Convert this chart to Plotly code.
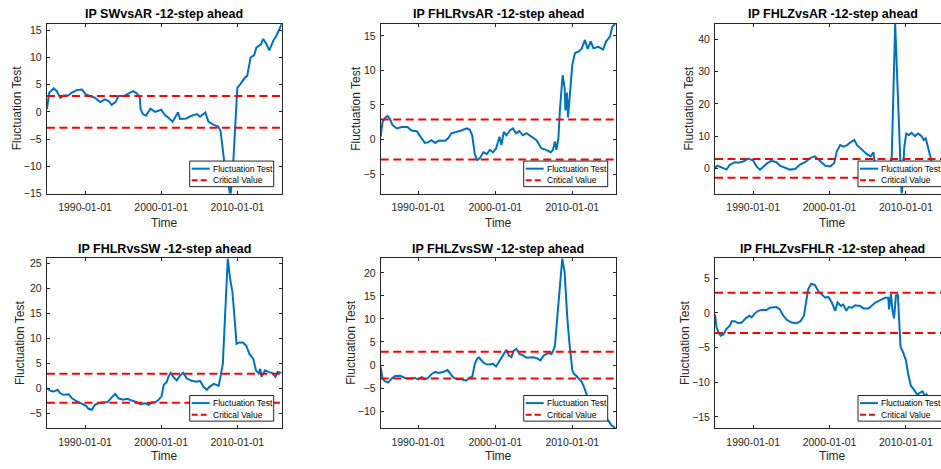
import numpy as np
import pandas as pd
import plotly.graph_objects as go

# ---------------- data ----------------
titles = ["IP SWvsAR -12-step ahead", "IP FHLRvsAR -12-step ahead", "IP FHLZvsAR -12-step ahead",
          "IP FHLRvsSW -12-step ahead", "IP FHLZvsSW -12-step ahead", "IP FHLZvsFHLR -12-step ahead"]
series_names = ["Fluctuation Test", "Critical Value"]
critical_value = 2.9
xtick_labels = ["1990-01-01", "2000-01-01", "2010-01-01"]
x_label = "Time"
y_label = "Fluctuation Test"

t_sw_ar = [1985.0, 1985.3, 1985.9, 1986.3, 1986.75, 1987.2, 1987.8, 1988.25, 1988.9, 1989.6, 1990.1, 1990.7,
           1991.3, 1992.0, 1992.6, 1993.1, 1993.5, 1994.0, 1994.4, 1995.1, 1995.7, 1996.3, 1996.8, 1997.2,
           1997.3, 1997.6, 1998.0, 1998.6, 1999.2, 2000.0, 2000.5, 2000.9, 2001.5, 2002.2, 2002.5, 2003.3,
           2004.0, 2004.7, 2005.1, 2005.5, 2005.8, 2006.2, 2006.9, 2007.5, 2007.8, 2008.3, 2008.6, 2009.0,
           2009.1, 2009.4, 2009.6, 2009.85, 2010.0, 2010.4, 2011.0, 2011.3, 2011.75, 2012.2, 2012.5, 2013.1,
           2013.4, 2013.8, 2014.2, 2014.7, 2015.1, 2015.6, 2015.83]
f_sw_ar = [0.5, 3.5, 4.3, 3.8, 2.6, 3.0, 3.0, 3.5, 4.0, 4.1, 3.2, 2.9, 2.6, 1.8, 2.3, 2.0, 1.3, 1.8, 2.9, 2.9,
           3.4, 3.8, 3.4, 2.6, 0.5, -0.4, -0.7, 0.6, 0.0, 0.4, -0.6, -1.0, -1.8, -0.1, -1.3, -1.2, -0.7, -0.4,
           -0.9, -0.4, -0.1, -1.8, -2.4, -2.7, -3.5, -9.3, -11.0, -14.8, -15.5, -11.0, -5.6, 2.9, 4.4, 5.1,
           6.3, 6.6, 10.0, 10.4, 11.8, 12.4, 13.4, 12.5, 11.3, 13.0, 13.9, 15.4, 16.2]

t_fhlr_ar = [1985.12, 1985.35, 1985.65, 1986.0, 1986.3, 1986.65, 1987.2, 1987.85, 1988.6, 1989.1, 1989.8,
             1990.2, 1990.85, 1991.3, 1991.7, 1992.2, 1992.6, 1993.5, 1993.9, 1994.3, 1995.0, 1995.6, 1996.3,
             1996.7, 1997.0, 1997.35, 1997.65, 1998.0, 1998.45, 1998.9, 1999.3, 1999.7, 2000.1, 2000.55,
             2000.8, 2001.1, 2001.45, 2001.9, 2002.3, 2002.7, 2003.1, 2003.6, 2004.05, 2004.7, 2005.35,
             2006.0, 2006.6, 2007.2, 2007.5, 2007.75, 2007.95, 2008.2, 2008.4, 2008.75, 2009.0, 2009.1,
             2009.3, 2009.45, 2009.7, 2010.0, 2010.35, 2010.8, 2011.2, 2011.65, 2012.0, 2012.4, 2012.75,
             2013.4, 2014.0, 2014.4, 2014.9, 2015.2, 2015.64]
f_fhlr_ar = [0.4, 2.5, 3.1, 3.4, 3.0, 2.1, 1.6, 1.8, 1.8, 1.3, 1.2, 0.5, -0.5, -0.4, -0.1, -0.5, -0.2, -0.2,
             0.2, 0.9, 1.1, 1.3, 1.6, 1.4, 0.6, -2.2, -3.0, -2.7, -1.85, -2.1, -1.5, -1.85, -1.3, 0.4, -0.8,
             1.1, 0.6, 1.3, 1.6, 0.9, 1.2, 0.6, 0.9, 0.4, -0.1, -1.3, -1.5, -1.85, -1.5, -0.3, -1.5, 0.15,
             4.4, 9.3, 7.5, 4.2, 6.8, 3.2, 7.3, 10.8, 12.5, 12.7, 13.1, 14.4, 13.1, 14.2, 13.2, 13.4, 13.0,
             14.2, 14.9, 16.3, 16.8]

t_fhlz_ar = [1985.0, 1985.3, 1985.85, 1986.5, 1986.95, 1987.6, 1988.0, 1988.7, 1989.35, 1990.0, 1990.45,
             1990.9, 1991.3, 1991.85, 1992.4, 1993.05, 1993.5, 1994.15, 1994.8, 1995.5, 1996.1, 1996.8,
             1997.45, 1998.1, 1998.8, 1999.45, 2000.1, 2000.6, 2000.95, 2001.4, 2001.85, 2002.3, 2002.7,
             2003.25, 2003.6, 2004.25, 2004.9, 2005.4, 2005.75, 2005.9, 2006.4, 2007.0, 2007.6, 2008.0,
             2008.15, 2008.6, 2009.45, 2009.8, 2010.05, 2010.4, 2010.75, 2011.2, 2011.6, 2012.05, 2012.35,
             2012.6, 2012.85, 2013.1, 2013.3, 2013.7, 2014.3, 2014.9, 2015.4, 2015.8]
f_fhlz_ar = [0.1, 0.8, 0.3, -0.4, 1.1, 1.9, 1.7, 2.1, 3.0, 2.4, 0.6, -0.4, 0.4, 1.6, 2.3, 1.9, 0.8, 0.1, -0.4,
             -0.2, 1.1, 1.9, 3.2, 3.7, 2.1, 0.8, 0.6, 1.6, 5.2, 7.2, 6.7, 7.2, 8.0, 8.8, 7.2, 5.7, 4.4, 3.7,
             5.0, 2.1, 0.5, -1.0, -0.5, 1.0, 3.7, 44.9, -9.0, 6.8, 10.8, 10.3, 11.0, 10.0, 10.8, 10.0, 8.8,
             9.3, 6.8, 4.7, 2.6, -1.0, -2.0, -1.5, -0.5, 0.5]

t_fhlr_sw = [1985.0, 1985.45, 1985.9, 1986.4, 1986.75, 1987.2, 1987.85, 1988.3, 1988.95, 1989.6, 1990.15,
             1990.45, 1990.9, 1991.3, 1991.75, 1992.4, 1992.95, 1993.4, 1993.95, 1994.4, 1995.0, 1995.5,
             1996.15, 1996.8, 1997.25, 1997.9, 1998.35, 1998.8, 1999.2, 1999.6, 2000.05, 2000.35, 2000.75,
             2000.95, 2001.25, 2001.6, 2002.05, 2002.5, 2002.9, 2003.35, 2004.0, 2004.65, 2005.1, 2005.55,
             2006.0, 2006.35, 2006.9, 2007.55, 2007.75, 2008.1, 2008.4, 2008.75, 2009.05, 2009.35, 2009.6,
             2009.9, 2010.25, 2010.7, 2011.15, 2011.6, 2012.1, 2012.45, 2012.8, 2013.0, 2013.2, 2013.65,
             2014.1, 2014.65, 2015.0, 2015.3, 2015.83]
f_fhlr_sw = [0.0, -0.5, -0.65, -0.3, -1.0, -1.3, -1.2, -2.0, -2.6, -3.0, -3.5, -4.1, -4.3, -3.3, -3.0, -2.8,
             -2.8, -2.0, -1.1, -2.0, -2.3, -2.1, -2.4, -2.8, -3.2, -3.0, -3.3, -2.8, -2.8, -2.4, -1.6, 0.7,
             1.3, 2.3, 3.1, 2.3, 1.6, 2.6, 3.1, 2.0, 1.5, 1.3, 1.5, 0.3, -0.3, 0.3, 0.9, 0.5, 2.0, 4.9, 14.8,
             26.0, 22.0, 19.4, 14.8, 8.9, 9.2, 9.2, 8.6, 6.9, 5.9, 3.6, 3.0, 3.9, 2.3, 3.6, 3.3, 3.0, 2.3,
             3.3, 3.1]

t_fhlz_sw = [1985.12, 1985.35, 1985.65, 1986.1, 1986.55, 1987.0, 1987.65, 1988.3, 1988.9, 1989.55, 1990.0,
             1990.45, 1990.75, 1991.2, 1991.7, 1992.2, 1992.6, 1993.25, 1993.8, 1994.2, 1994.55, 1995.0,
             1995.6, 1996.2, 1996.7, 1997.0, 1997.35, 1997.65, 1997.9, 1998.4, 1998.85, 1999.35, 1999.7,
             2000.1, 2000.65, 2001.0, 2001.45, 2001.75, 2002.1, 2002.4, 2002.75, 2003.15, 2003.6, 2004.05,
             2004.9, 2005.4, 2005.85, 2006.3, 2006.9, 2007.3, 2007.5, 2007.75, 2008.05, 2008.4, 2008.7,
             2009.0, 2009.2, 2009.35, 2009.6, 2009.8, 2010.0, 2010.25, 2010.55, 2010.9, 2011.2, 2011.5,
             2011.85, 2012.3, 2012.7, 2013.35, 2014.0, 2014.45, 2014.8, 2015.1, 2015.64]
f_fhlz_sw = [-0.4, -2.9, -3.5, -3.8, -2.9, -2.4, -2.35, -2.8, -2.9, -2.8, -3.1, -2.6, -3.1, -2.9, -2.0, -1.5,
             -1.7, -1.5, -1.1, -2.0, -2.7, -3.1, -3.1, -3.4, -2.7, -2.6, 0.3, 1.35, 1.6, 0.6, 0.15, 0.1, 0.3,
             -0.3, 1.0, 2.1, 3.3, 2.1, 1.7, 3.1, 3.5, 2.4, 2.1, 1.6, 1.7, 1.5, 1.0, 2.1, 2.6, 2.4, 3.0, 4.2,
             10.3, 18.1, 23.1, 20.2, 12.4, 10.3, 5.3, 1.7, -1.1, -2.0, -2.4, -3.1, -3.6, -4.7, -6.5, -8.3,
             -9.3, -10.0, -10.8, -11.5, -12.4, -13.1, -13.7]

t_fhlz_fhlr = [1985.0, 1985.2, 1985.45, 1985.75, 1986.1, 1986.5, 1986.95, 1987.2, 1987.6, 1988.05, 1988.5,
               1989.05, 1989.5, 1989.8, 1990.2, 1990.65, 1991.1, 1991.75, 1992.2, 1993.05, 1993.5, 1993.95,
               1994.4, 1995.05, 1995.7, 1996.2, 1996.65, 1996.9, 1997.2, 1997.6, 1998.1, 1998.55, 1999.0,
               1999.45, 1999.85, 2000.3, 2000.75, 2001.05, 2001.5, 2001.8, 2002.2, 2002.5, 2002.95, 2003.35,
               2004.0, 2004.45, 2005.1, 2005.55, 2006.0, 2006.6, 2007.3, 2007.7, 2007.8, 2008.05, 2008.25,
               2008.45, 2008.7, 2008.95, 2009.15, 2009.3, 2009.6, 2010.0, 2010.3, 2010.65, 2011.0, 2011.5,
               2011.85, 2012.2, 2012.45, 2012.7, 2013.2, 2014.0, 2014.8, 2015.8]
f_fhlz_fhlr = [-0.2, -2.1, -2.8, -3.3, -3.1, -2.3, -1.85, -1.2, -1.2, -1.5, -1.4, -0.75, -0.4, -0.65, -0.1,
               0.3, 0.4, 0.4, 0.75, 0.85, 0.5, -0.4, -1.0, -1.4, -1.5, -1.2, -0.4, 1.2, 3.4, 4.2, 4.0, 3.1,
               2.7, 2.2, 2.3, 1.5, 0.3, 1.5, 1.0, 1.2, 0.3, 0.85, 0.75, 1.1, 1.0, 0.65, 0.65, 1.1, 1.5, 1.8,
               2.2, 2.2, 0.5, 2.7, 0.3, -0.8, 2.5, 2.6, -1.0, -4.9, -5.6, -6.8, -8.8, -10.5, -11.0, -11.8,
               -11.5, -11.3, -12.0, -11.7, -13.0, -14.5, -15.8, -16.6]

times = [t_sw_ar, t_fhlr_ar, t_fhlz_ar, t_fhlr_sw, t_fhlz_sw, t_fhlz_fhlr]
stats = [f_sw_ar, f_fhlr_ar, f_fhlz_ar, f_fhlr_sw, f_fhlz_sw, f_fhlz_fhlr]

# ---------------- layout constants ----------------
W, H = 941, 469
col_px = [(46.7, 281.7), (380.7, 615.7), (715.0, 950.0)]
row_px = [(23.0, 195.5), (261.0, 433.5)]
x_ranges = [(1984.97, 2015.83), (1985.12, 2015.64), (1985.0, 2015.78)]
y_ranges = [(-15.0, 16.2), (-7.83, 16.76), (-7.84, 44.9), (-7.96, 26.1), (-13.67, 23.2), (-16.6, 7.9)]
y_dticks = [5, 5, 10, 5, 5, 5]
ylab_offset = [30, 25.5, 26, 26.7, 30, 30]
title_y_px = [13.0, 251.7]
xlab_top_px = [217.5, 453.5]

FONT = "Liberation Sans"
AX = "#262626"
BLUE = "#0072BD"
RED = "#FF0000"
DASH = "8px,4.5px"


def to_date(y):
    yr = int(np.floor(y))
    start = pd.Timestamp(year=yr, month=1, day=1)
    end = pd.Timestamp(year=yr + 1, month=1, day=1)
    return start + (end - start) * (y - yr)


def px(xp):
    return xp / W


def py(yp):
    return 1 - yp / H


fig = go.Figure()
annotations = []
shapes = []
layout_axes = {}

for i in range(6):
    r, c = divmod(i, 3)
    x0p, x1p = col_px[c]
    y0p, y1p = row_px[r]
    vis_x1 = min(x1p, W)
    xs, xe = x_ranges[c]
    xe_vis = xs + (xe - xs) * (vis_x1 - x0p) / (x1p - x0p)

    sfx = "" if i == 0 else str(i + 1)
    xa, ya = "x" + sfx, "y" + sfx

    assert len(times[i]) == len(stats[i])
    dates = [to_date(t) for t in times[i]]

    fig.add_trace(go.Scatter(x=dates, y=stats[i], mode="lines", name=series_names[0],
                             line=dict(color=BLUE, width=2), xaxis=xa, yaxis=ya, showlegend=False))
    for sgn in (1, -1):
        fig.add_trace(go.Scatter(x=[dates[0], dates[-1]], y=[sgn * critical_value] * 2, mode="lines",
                                 name=series_names[1], line=dict(color=RED, width=2, dash=DASH),
                                 xaxis=xa, yaxis=ya, showlegend=False))

    layout_axes["xaxis" + sfx] = dict(
        domain=[px(x0p), px(vis_x1)], anchor=ya, type="date",
        range=[to_date(xs), to_date(xe_vis)],
        tickvals=[pd.Timestamp(s) for s in xtick_labels], ticktext=xtick_labels,
        ticks="inside", ticklen=3, tickcolor=AX, tickwidth=1,
        showline=True, linecolor=AX, linewidth=1, mirror="ticks",
        showgrid=False, zeroline=False, ticklabelstandoff=4,
        tickfont=dict(family=FONT, size=10.5, color=AX),
    )
    layout_axes["yaxis" + sfx] = dict(
        domain=[py(y1p), py(y0p)], anchor=xa,
        range=list(y_ranges[i]), tick0=0, dtick=y_dticks[i],
        ticks="inside", ticklen=3, tickcolor=AX, tickwidth=1,
        showline=True, linecolor=AX, linewidth=1, mirror=("ticks" if c < 2 else False),
        showgrid=False, zeroline=False, ticklabelstandoff=2,
        tickfont=dict(family=FONT, size=10.5, color=AX),
    )

    cx = (x0p + x1p) / 2
    annotations.append(dict(text="<b>" + titles[i] + "</b>", x=px(cx), y=py(title_y_px[r]),
                            xref="paper", yref="paper", xanchor="center", yanchor="middle",
                            showarrow=False, font=dict(family=FONT, size=12.5, color="#000000")))
    annotations.append(dict(text=x_label, x=px(cx), y=py(xlab_top_px[r]), xref="paper", yref="paper",
                            xanchor="center", yanchor="top", showarrow=False, borderpad=0,
                            font=dict(family=FONT, size=12, color=AX)))
    annotations.append(dict(text=y_label, x=px(x0p - ylab_offset[i]), y=py((y0p + y1p) / 2),
                            xref="paper", yref="paper", xanchor="center", yanchor="middle",
                            textangle=-90, showarrow=False, font=dict(family=FONT, size=12, color=AX)))

    # legend box (bottom-right inside each axes)
    lr = x1p - 8
    lb = y1p - 7
    ll, lt = lr - 84, lb - 26
    shapes.append(dict(type="rect", xref="paper", yref="paper", x0=px(ll), x1=px(lr), y0=py(lb), y1=py(lt),
                       line=dict(color=AX, width=1), fillcolor="white", layer="above"))
    for k, (col, dash) in enumerate([(BLUE, "solid"), (RED, "6px,3px")]):
        yy = lt + 7.7 + k * 11.7
        shapes.append(dict(type="line", xref="paper", yref="paper", x0=px(ll + 2), x1=px(ll + 20),
                           y0=py(yy), y1=py(yy), line=dict(color=col, width=2, dash=dash), layer="above"))
        annotations.append(dict(text=series_names[k], x=px(ll + 21), y=py(yy), xref="paper", yref="paper",
                                xanchor="left", yanchor="middle", showarrow=False,
                                font=dict(family=FONT, size=8.5, color="#000000")))

fig.update_layout(
    width=W, height=H, margin=dict(l=0, r=0, t=0, b=0),
    paper_bgcolor="white", plot_bgcolor="white",
    font=dict(family=FONT, color=AX),
    showlegend=False,
    annotations=annotations, shapes=shapes,
    **layout_axes,
)

fig.write_html("out.html", config={"displayModeBar": False},
               post_script="document.body.style.margin='0';document.body.style.overflow='hidden';")
